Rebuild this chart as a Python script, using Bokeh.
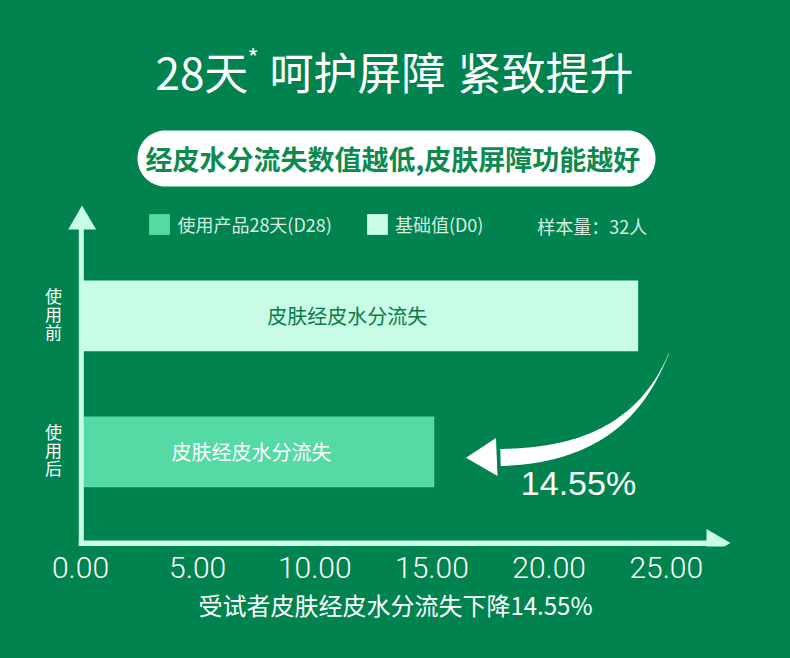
import numpy as np
from bokeh.plotting import figure
from bokeh.models import (ColumnDataSource, Range1d, FixedTicker,
                          NumeralTickFormatter, Legend, LegendItem)
from bokeh.core.properties import value
from bokeh.embed import file_html
from bokeh.resources import INLINE

# ---------------- data ----------------
categories = ["使用后", "使用前"]          # bottom -> top
cat_pos = [0, 1]
series_names = ["使用产品28天(D28)", "基础值(D0)"]
d28_value = 15.1      # 使用后
d0_value = 23.8       # 使用前
bar_text = "皮肤经皮水分流失"
x_ticks = [0, 5, 10, 15, 20, 25]
decline_text = "14.55%"
sample_text = "样本量：32人"
title_main = "28天"
title_star = "*"
title_rest1 = "呵护屏障"
title_rest2 = "紧致提升"
pill_text = "经皮水分流失数值越低,皮肤屏障功能越好"
x_title = "受试者皮肤经皮水分流失下降14.55%"

# ---------------- style ----------------
BG = "#00834f"
LIGHT = "#c8fce6"
MID = "#55d9a5"
PILL_TXT = "#0d8a4e"
BAR_TXT = "#0b7a46"
LEG_TXT = "#d8ede2"
CJK = value("Noto Sans CJK SC")

W, H = 790, 658
FRAME_BOTTOM = 546
PX_PER_UNIT = 23.43
X0 = 80.0                     # data 0 in page px
x_start = -X0 / PX_PER_UNIT
x_end = (W - X0) / PX_PER_UNIT
ROW = 136.0
y_bottom = 0 - (FRAME_BOTTOM - 451.3) / ROW
y_top = 1 + (315.3 - 0) / ROW

p = figure(width=W, height=H, output_backend="svg", toolbar_location=None,
           x_range=Range1d(x_start, x_end), y_range=Range1d(y_bottom, y_top),
           y_axis_location=None, title_location=None,
           min_border_left=0, min_border_right=0, min_border_top=0,
           min_border_bottom=H - FRAME_BOTTOM,
           background_fill_color=BG, border_fill_color=BG,
           outline_line_color=None)
p.xgrid.visible = False
p.ygrid.visible = False

# page-pixel helper ranges for decorations
p.extra_x_ranges = {"px": Range1d(0, W)}
p.extra_y_ranges = {"px": Range1d(FRAME_BOTTOM, 0)}
PXK = dict(x_range_name="px", y_range_name="px")

# ---------------- x axis ----------------
ax = p.xaxis[0]
ax.ticker = FixedTicker(ticks=x_ticks)
ax.formatter = NumeralTickFormatter(format="0.00")
ax.axis_line_color = None
ax.major_tick_line_color = None
ax.minor_tick_line_color = None
ax.major_label_text_font = "Roboto Light"
ax.major_label_text_font_size = "30px"
ax.major_label_text_color = "#ffffff"
ax.major_label_standoff = 4
ax.axis_label = x_title
ax.axis_label_text_font = "Noto Sans CJK SC"
ax.axis_label_text_font_size = "24px"
ax.axis_label_text_font_style = "normal"
ax.axis_label_text_color = "#ffffff"
ax.axis_label_standoff = 6

# ---------------- bars ----------------
src_d0 = ColumnDataSource(dict(y=[cat_pos[1]], right=[d0_value],
                               mid=[d0_value / 2], t=[bar_text]))
src_d28 = ColumnDataSource(dict(y=[cat_pos[0]], right=[d28_value],
                                mid=[d28_value / 2], t=[bar_text]))
r_d0 = p.hbar(y="y", left=0, right="right", height=0.52, source=src_d0,
              fill_color=LIGHT, line_color=None)
r_d28 = p.hbar(y="y", left=0, right="right", height=0.52, source=src_d28,
               fill_color=MID, line_color=None)

p.text(x="mid", y="y", text="t", source=src_d0, x_offset=-12,
       text_align="center", text_baseline="middle", text_font=CJK,
       text_font_size="20px", text_color=BAR_TXT)
p.text(x="mid", y="y", text="t", source=src_d28, x_offset=-6,
       text_align="center", text_baseline="middle", text_font=CJK,
       text_font_size="20px", text_color="#ffffff")

# category labels (vertical, one character per line)
for k in range(3):
    p.text(x=[0, 0], y=cat_pos, text=[c[k] for c in categories],
           x_offset=-27, y_offset=(k - 1) * 17.9 - 2,
           text_align="center", text_baseline="middle", text_font=CJK,
           text_font_size="17px", text_color="#ffffff")

# ---------------- axes arrows ----------------
p.quad(left=[78.3], right=[83.3], top=[226], bottom=[545.5],
       fill_color=LIGHT, line_color=None, **PXK)
p.quad(left=[78.3], right=[710], top=[540], bottom=[545.5],
       fill_color=LIGHT, line_color=None, **PXK)
p.patch(x=[81.5, 67.7, 95.7], y=[205, 229, 229], fill_color=LIGHT,
        line_color=None, **PXK)
p.patch(x=[730, 706, 706], y=[542.5, 528.5, 556.5], fill_color=LIGHT,
        line_color=None, **PXK)

# ---------------- title ----------------
TKW = dict(text_baseline="middle", text_font=CJK, text_font_size="44px",
           text_color="#ffffff", text_align="left")
p.text(x=[155], y=[70], text=[title_main], **TKW, **PXK)
p.text(x=[247], y=[38], text=[title_star], text_align="left",
       text_baseline="top", text_font=CJK, text_font_size="24px",
       text_color="#ffffff", **PXK)
p.text(x=[269], y=[70], text=[title_rest1], **TKW, **PXK)
p.text(x=[457], y=[70], text=[title_rest2], **TKW, **PXK)

# ---------------- pill ----------------
r = 28.0
cy = 158.0
ang_r = np.linspace(-np.pi / 2, np.pi / 2, 40)
ang_l = np.linspace(np.pi / 2, 3 * np.pi / 2, 40)
px = np.concatenate([655 - r + r * np.cos(ang_r), 137 + r + r * np.cos(ang_l)])
py = np.concatenate([cy - r * np.sin(ang_r), cy - r * np.sin(ang_l)])
p.patch(x=px, y=py, fill_color="#ffffff", line_color=None, **PXK)
p.text(x=[392.3], y=[158], text=[pill_text], text_align="center",
       text_baseline="middle", text_font=CJK, text_font_size="27px",
       text_font_style="bold", text_color=PILL_TXT, **PXK)

# ---------------- legend ----------------
legend = Legend(items=[LegendItem(label=series_names[0], renderers=[r_d28]),
                       LegendItem(label=series_names[1], renderers=[r_d0])],
                orientation="horizontal", location=(146.4, 309.3),
                padding=0, margin=0, spacing=32,
                glyph_width=26, glyph_height=26, label_height=26,
                label_standoff=5, background_fill_alpha=0,
                border_line_color=None,
                label_text_font="Noto Sans CJK SC",
                label_text_font_size="18px", label_text_color=LEG_TXT)
p.add_layout(legend)
p.text(x=[536.7], y=[225], text=[sample_text], text_align="left",
       text_baseline="middle", text_font=CJK, text_font_size="18px",
       text_color=LEG_TXT, **PXK)

# ---------------- curved arrow ----------------
P0 = np.array([668.5, 352.5])
P1 = np.array([645.0, 410.0])
P2 = np.array([600.0, 455.0])
P3 = np.array([500.0, 457.0])
t = np.linspace(0, 1, 90)[:, None]
c = (1 - t) ** 3 * P0 + 3 * (1 - t) ** 2 * t * P1 + 3 * (1 - t) * t ** 2 * P2 + t ** 3 * P3
d = np.gradient(c, axis=0)
n = np.stack([-d[:, 1], d[:, 0]], axis=1)
n /= np.linalg.norm(n, axis=1)[:, None]
tt = t[:, 0]
w = (0.4 + 16.6 * (1 - (1 - tt) ** 1.6) ** 1.8)[:, None]
left = c + n * w / 2
right = c - n * w / 2
outline = np.vstack([left, right[::-1]])
p.patch(x=outline[:, 0], y=outline[:, 1], fill_color="#ffffff",
        line_color=None, **PXK)
p.patch(x=[465.5, 495.5, 497], y=[457.3, 437.5, 475.5], fill_color="#ffffff",
        line_color=None, **PXK)
p.text(x=[578], y=[482.5], text=[decline_text], text_align="center",
       text_baseline="middle", text_font=value("Liberation Sans"),
       text_font_size="34px", text_color="#ffffff", **PXK)

html = file_html(p, INLINE)
html = html.replace("</head>",
                    "<style>html,body{background:%s;}</style></head>" % BG, 1)
open("out.html", "w").write(html)
